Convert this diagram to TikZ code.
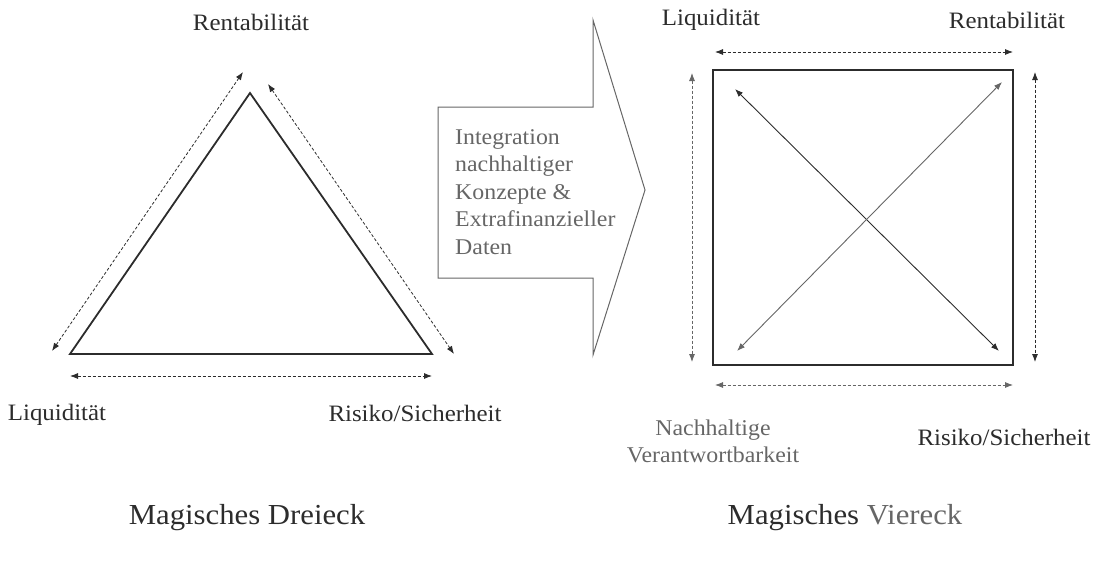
\documentclass[tikz,border=0pt]{standalone}
\usepackage{fontspec}
\setmainfont{Liberation Serif}[FakeStretch=1.06]
\usetikzlibrary{arrows.meta}
\definecolor{ink}{HTML}{2C2C2C}
\definecolor{soft}{HTML}{666666}

\begin{document}
\begin{tikzpicture}[x=1pt,y=-1pt,>={Latex[length=8pt,width=6pt]},
    edge/.style={draw=ink,line width=1.8pt},
    link/.style={<->,draw=ink,line width=0.8pt,dash pattern=on 3pt off 2pt},
    label/.style={text=ink,font=\fontsize{23.5}{27}\selectfont,inner sep=0pt},
    title/.style={text=ink,font=\fontsize{29}{34}\selectfont,inner sep=0pt}]
  % Frame (keeps the margins of the reference).
  \useasboundingbox (0,0) rectangle (1100,563);

  % Magic triangle: corners.
  \coordinate (top) at (250,93);
  \coordinate (left) at (70,354);
  \coordinate (right) at (432,354);
  \draw[edge,line join=miter] (left) -- (top) -- (right) -- cycle;
  % Dashed double arrows beside its edges.
  \coordinate (la) at (52,351);
  \coordinate (lb) at (243,72);
  \coordinate (ra) at (268,84);
  \coordinate (rb) at (454,354);
  \coordinate (ba) at (70,376);
  \coordinate (bb) at (432,376);
  \draw[link] (la) -- (lb);
  \draw[link] (ra) -- (rb);
  \draw[link] (ba) -- (bb);
  % Its labels.
  \node[label] (rent1) at (251,22) {Rentabilität};
  \node[label] (liq1) at (57,415) {Liquidität};
  \node[label] (risk1) at (415,413) {Risiko/Sicherheit};

  % Block arrow in the middle.
  \draw[soft,line width=1pt,line join=miter]
    (438,107) -- (593,107) -- (593,20) -- (645,190)
    -- (593,355) -- (593,278) -- (438,278) -- cycle;
  \node[text=soft,font=\fontsize{22.5}{27.5}\selectfont,align=left,anchor=west,inner sep=0pt]
    (integ) at (455,192)
    {Integration\\nachhaltiger\\Konzepte \&\\Extrafinanzieller\\Daten};

  % Magic square: corners.
  \coordinate (q1) at (713,70);
  \coordinate (q2) at (1013,70);
  \coordinate (q3) at (1013,365);
  \coordinate (q4) at (713,365);
  \draw[edge,line width=2.4pt,line join=miter] (q1) -- (q2) -- (q3) -- (q4) -- cycle;
  % Dashed double arrows round it.
  \coordinate (ta) at (715,52);
  \coordinate (tb) at (1013,52);
  \coordinate (da) at (715,385);
  \coordinate (db) at (1013,385);
  \coordinate (va) at (692,73);
  \coordinate (vb) at (692,362);
  \coordinate (wa) at (1035,72);
  \coordinate (wb) at (1035,362);
  \draw[link] (ta) -- (tb);
  \draw[link,soft] (da) -- (db);
  \draw[link,soft] (va) -- (vb);
  \draw[link] (wa) -- (wb);
  % Solid diagonals.
  \coordinate (xa) at (735,89);
  \coordinate (xb) at (999,351);
  \coordinate (ya) at (737,351);
  \coordinate (yb) at (1002,82);
  \draw[<->,ink,line width=0.9pt] (xa) -- (xb);
  \draw[<->,soft,line width=0.9pt] (ya) -- (yb);
  % Its labels.
  \node[label] (liq2) at (711,20) {Liquidität};
  \node[label] (rent2) at (1007,20) {Rentabilität};
  \node[label,text=soft,align=center,font=\fontsize{22.5}{27}\selectfont]
    (nach) at (713,441) {Nachhaltige\\Verantwortbarkeit};
  \node[label] (risk2) at (1004,437) {Risiko/Sicherheit};

  % Titles.
  \node[title] (dreieck) at (247,518) {Magisches Dreieck};
  \node[title] (viereck) at (845,518) {Magisches \textcolor{soft}{Viereck}};
\end{tikzpicture}
\end{document}
